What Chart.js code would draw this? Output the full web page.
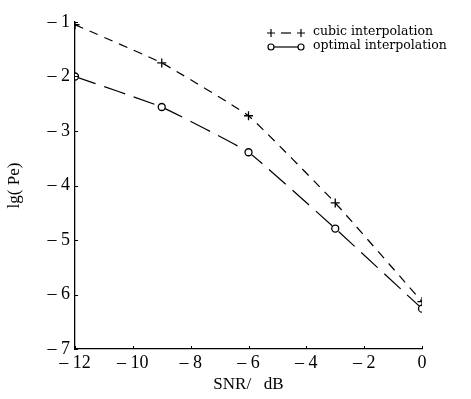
<!DOCTYPE html>
<html>
<head>
<meta charset="utf-8">
<script src="https://cdn.jsdelivr.net/npm/chart.js@4/dist/chart.umd.min.js"></script>
<style>
  html, body { margin: 0; padding: 0; background: #fff; }
  #wrap { width: 471px; height: 399px; position: relative; }
</style>
</head>
<body>
<div id="wrap"><canvas id="c" width="471" height="399"></canvas></div>
<script>
const snr = [-12, -9, -6, -3, 0];
const cubicValues = [-1.05, -1.75, -2.72, -4.32, -6.13];
const optimalValues = [-2.0, -2.56, -3.39, -4.79, -6.26];
const xTickValues = [-12, -10, -8, -6, -4, -2, 0];
const yTickValues = [-7, -6, -5, -4, -3, -2, -1];
const seriesLabels = ['cubic interpolation', 'optimal interpolation'];
const xTitle = 'SNR/   dB';
const yTitle = 'lg( Pe)';

const fmt = v => v === 0 ? '0' : '\u2013 ' + Math.abs(v);
const serif = '"Liberation Serif", "DejaVu Serif", serif';
const legendFont = '"DejaVu Serif", serif';

const innerTicks = {
  id: 'innerTicks',
  afterDraw(chart) {
    const ctx = chart.ctx;
    const xs = chart.scales.x, ys = chart.scales.y;
    const ca = chart.chartArea;
    ctx.save();
    ctx.strokeStyle = '#000';
    ctx.lineWidth = 1;
    ctx.beginPath();
    xTickValues.forEach(v => {
      const px = Math.round(xs.getPixelForValue(v)) + 0.5;
      ctx.moveTo(px, ca.bottom); ctx.lineTo(px, ca.bottom - 3);
    });
    yTickValues.forEach(v => {
      const py = Math.round(ys.getPixelForValue(v)) + 0.5;
      ctx.moveTo(ca.left, py); ctx.lineTo(ca.left + 3, py);
    });
    ctx.stroke();
    ctx.restore();
  }
};

const legendPlugin = {
  id: 'customLegend',
  afterDraw(chart) {
    const ctx = chart.ctx;
    const x0 = 271, x1 = 301;
    const rows = [33, 47];
    ctx.save();
    ctx.strokeStyle = '#000';
    ctx.fillStyle = '#000';
    ctx.lineWidth = 1.2;
    chart.data.datasets.forEach((ds, i) => {
      const y = rows[i];
      ctx.beginPath();
      if (i === 0) {
        ctx.moveTo(x0 + 10, y); ctx.lineTo(x1 - 10, y);
      } else {
        ctx.moveTo(x0 + 3, y); ctx.lineTo(x1 - 3, y);
      }
      ctx.stroke();
      [x0, x1].forEach(px => {
        ctx.beginPath();
        if (i === 0) {
          ctx.moveTo(px - 4, y); ctx.lineTo(px + 4, y);
          ctx.moveTo(px, y - 4); ctx.lineTo(px, y + 4);
          ctx.stroke();
        } else {
          ctx.fillStyle = '#fff';
          ctx.arc(px, y, 3, 0, Math.PI * 2);
          ctx.fill();
          ctx.stroke();
          ctx.fillStyle = '#000';
        }
      });
      ctx.font = '12.5px ' + legendFont;
      ctx.textBaseline = 'middle';
      ctx.textAlign = 'left';
      ctx.fillText(ds.label, 313, y - 1);
    });
    ctx.restore();
  }
};

new Chart(document.getElementById('c'), {
  type: 'line',
  data: {
    datasets: [
      {
        label: seriesLabels[0],
        data: snr.map((x, i) => ({ x, y: cubicValues[i] })),
        borderColor: '#000',
        borderWidth: 1.2,
        borderDash: [9, 7],
        pointStyle: 'cross',
        pointRadius: 4.5,
        pointBorderWidth: 1.3,
        pointBorderColor: '#000',
        tension: 0.1,
        fill: false
      },
      {
        label: seriesLabels[1],
        data: snr.map((x, i) => ({ x, y: optimalValues[i] })),
        borderColor: '#000',
        borderWidth: 1.2,
        borderDash: [22, 9],
        pointStyle: 'circle',
        pointRadius: 3.5,
        pointBorderWidth: 1.3,
        pointBorderColor: '#000',
        pointBackgroundColor: '#fff',
        tension: 0.1,
        fill: false
      }
    ]
  },
  options: {
    responsive: false,
    animation: false,
    layout: { padding: { left: 0, right: 49, top: 22, bottom: 0 } },
    plugins: { legend: { display: false }, tooltip: { enabled: false } },
    scales: {
      x: {
        type: 'linear',
        min: -12, max: 0,
        afterBuildTicks: s => { s.ticks = xTickValues.map(v => ({ value: v })); },
        afterFit: s => { s.height = 50; },
        border: { display: true, color: '#000', width: 1.3 },
        grid: { display: true, drawOnChartArea: false, drawTicks: false, color: '#000' },
        ticks: { callback: v => fmt(v), color: '#000', font: { family: serif, size: 18 }, padding: 3, maxRotation: 0 },
        title: { display: true, text: xTitle, color: '#000', font: { family: serif, size: 17 }, padding: { top: 6 } }
      },
      y: {
        type: 'linear',
        min: -7, max: -1,
        afterBuildTicks: s => { s.ticks = yTickValues.map(v => ({ value: v })); },
        afterFit: s => { s.width = 75; },
        border: { display: true, color: '#000', width: 1.3 },
        grid: { display: true, drawOnChartArea: false, drawTicks: false, color: '#000' },
        ticks: { callback: v => fmt(v), color: '#000', font: { family: serif, size: 18 }, padding: 5 },
        title: { display: true, text: yTitle, color: '#000', font: { family: serif, size: 17 }, padding: { bottom: 4 } }
      }
    }
  },
  plugins: [innerTicks, legendPlugin]
});
</script>
</body>
</html>
